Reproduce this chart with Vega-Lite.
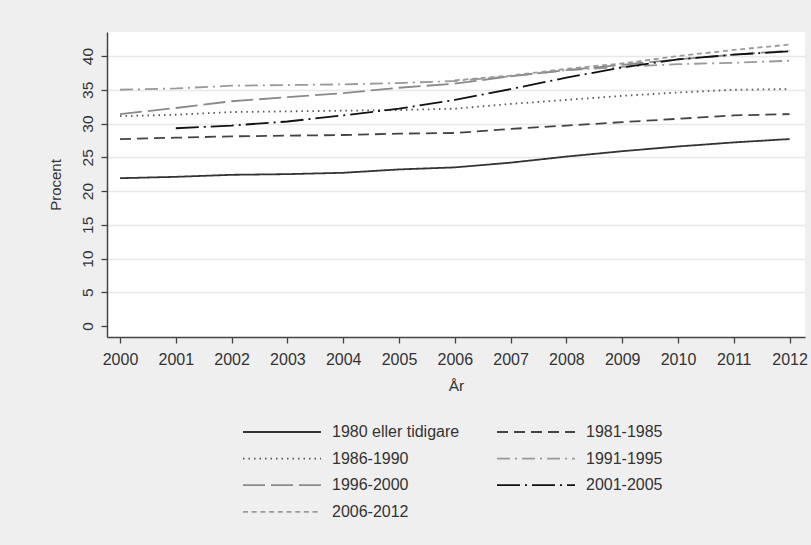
{
  "$schema": "https://vega.github.io/schema/vega-lite/v6.json",
  "width": 698,
  "height": 305,
  "autosize": {"type": "none"},
  "padding": {"left": 107, "top": 32, "right": 6, "bottom": 208},
  "background": "#efefef",
  "config": {
    "font": "Liberation Sans",
    "view": {"fill": "white", "stroke": null},
    "axis": {
      "labelColor": "#333333",
      "titleColor": "#333333",
      "domainColor": "#444444",
      "tickColor": "#444444",
      "domainWidth": 1.5,
      "tickWidth": 1.3,
      "tickSize": 6,
      "titleFontWeight": "normal",
      "titleFont": "Liberation Sans",
      "labelFont": "Liberation Sans"
    }
  },
  "data": {
    "values": [
      {"year": 2000, "cohort": "1980 eller tidigare", "pct": 21.9},
      {"year": 2001, "cohort": "1980 eller tidigare", "pct": 22.1},
      {"year": 2002, "cohort": "1980 eller tidigare", "pct": 22.4},
      {"year": 2003, "cohort": "1980 eller tidigare", "pct": 22.5},
      {"year": 2004, "cohort": "1980 eller tidigare", "pct": 22.7},
      {"year": 2005, "cohort": "1980 eller tidigare", "pct": 23.2},
      {"year": 2006, "cohort": "1980 eller tidigare", "pct": 23.5},
      {"year": 2007, "cohort": "1980 eller tidigare", "pct": 24.2},
      {"year": 2008, "cohort": "1980 eller tidigare", "pct": 25.1},
      {"year": 2009, "cohort": "1980 eller tidigare", "pct": 25.9},
      {"year": 2010, "cohort": "1980 eller tidigare", "pct": 26.6},
      {"year": 2011, "cohort": "1980 eller tidigare", "pct": 27.2},
      {"year": 2012, "cohort": "1980 eller tidigare", "pct": 27.7},

      {"year": 2000, "cohort": "1981-1985", "pct": 27.7},
      {"year": 2001, "cohort": "1981-1985", "pct": 27.9},
      {"year": 2002, "cohort": "1981-1985", "pct": 28.1},
      {"year": 2003, "cohort": "1981-1985", "pct": 28.2},
      {"year": 2004, "cohort": "1981-1985", "pct": 28.3},
      {"year": 2005, "cohort": "1981-1985", "pct": 28.5},
      {"year": 2006, "cohort": "1981-1985", "pct": 28.6},
      {"year": 2007, "cohort": "1981-1985", "pct": 29.2},
      {"year": 2008, "cohort": "1981-1985", "pct": 29.7},
      {"year": 2009, "cohort": "1981-1985", "pct": 30.2},
      {"year": 2010, "cohort": "1981-1985", "pct": 30.7},
      {"year": 2011, "cohort": "1981-1985", "pct": 31.2},
      {"year": 2012, "cohort": "1981-1985", "pct": 31.4},

      {"year": 2000, "cohort": "1986-1990", "pct": 31.1},
      {"year": 2001, "cohort": "1986-1990", "pct": 31.3},
      {"year": 2002, "cohort": "1986-1990", "pct": 31.7},
      {"year": 2003, "cohort": "1986-1990", "pct": 31.8},
      {"year": 2004, "cohort": "1986-1990", "pct": 31.9},
      {"year": 2005, "cohort": "1986-1990", "pct": 32.0},
      {"year": 2006, "cohort": "1986-1990", "pct": 32.2},
      {"year": 2007, "cohort": "1986-1990", "pct": 32.9},
      {"year": 2008, "cohort": "1986-1990", "pct": 33.5},
      {"year": 2009, "cohort": "1986-1990", "pct": 34.1},
      {"year": 2010, "cohort": "1986-1990", "pct": 34.6},
      {"year": 2011, "cohort": "1986-1990", "pct": 35.0},
      {"year": 2012, "cohort": "1986-1990", "pct": 35.1},

      {"year": 2000, "cohort": "1991-1995", "pct": 35.0},
      {"year": 2001, "cohort": "1991-1995", "pct": 35.2},
      {"year": 2002, "cohort": "1991-1995", "pct": 35.6},
      {"year": 2003, "cohort": "1991-1995", "pct": 35.7},
      {"year": 2004, "cohort": "1991-1995", "pct": 35.8},
      {"year": 2005, "cohort": "1991-1995", "pct": 36.0},
      {"year": 2006, "cohort": "1991-1995", "pct": 36.3},
      {"year": 2007, "cohort": "1991-1995", "pct": 37.0},
      {"year": 2008, "cohort": "1991-1995", "pct": 37.9},
      {"year": 2009, "cohort": "1991-1995", "pct": 38.4},
      {"year": 2010, "cohort": "1991-1995", "pct": 38.8},
      {"year": 2011, "cohort": "1991-1995", "pct": 39.0},
      {"year": 2012, "cohort": "1991-1995", "pct": 39.3},

      {"year": 2000, "cohort": "1996-2000", "pct": 31.4},
      {"year": 2001, "cohort": "1996-2000", "pct": 32.3},
      {"year": 2002, "cohort": "1996-2000", "pct": 33.3},
      {"year": 2003, "cohort": "1996-2000", "pct": 33.9},
      {"year": 2004, "cohort": "1996-2000", "pct": 34.5},
      {"year": 2005, "cohort": "1996-2000", "pct": 35.3},
      {"year": 2006, "cohort": "1996-2000", "pct": 35.9},
      {"year": 2007, "cohort": "1996-2000", "pct": 37.0},
      {"year": 2008, "cohort": "1996-2000", "pct": 37.9},
      {"year": 2009, "cohort": "1996-2000", "pct": 38.7},
      {"year": 2010, "cohort": "1996-2000", "pct": 39.5},
      {"year": 2011, "cohort": "1996-2000", "pct": 40.2},
      {"year": 2012, "cohort": "1996-2000", "pct": 40.8},

      {"year": 2001, "cohort": "2001-2005", "pct": 29.3},
      {"year": 2002, "cohort": "2001-2005", "pct": 29.7},
      {"year": 2003, "cohort": "2001-2005", "pct": 30.3},
      {"year": 2004, "cohort": "2001-2005", "pct": 31.2},
      {"year": 2005, "cohort": "2001-2005", "pct": 32.2},
      {"year": 2006, "cohort": "2001-2005", "pct": 33.5},
      {"year": 2007, "cohort": "2001-2005", "pct": 35.1},
      {"year": 2008, "cohort": "2001-2005", "pct": 36.8},
      {"year": 2009, "cohort": "2001-2005", "pct": 38.3},
      {"year": 2010, "cohort": "2001-2005", "pct": 39.5},
      {"year": 2011, "cohort": "2001-2005", "pct": 40.2},
      {"year": 2012, "cohort": "2001-2005", "pct": 40.7},

      {"year": 2006, "cohort": "2006-2012", "pct": 36.4},
      {"year": 2007, "cohort": "2006-2012", "pct": 37.1},
      {"year": 2008, "cohort": "2006-2012", "pct": 38.1},
      {"year": 2009, "cohort": "2006-2012", "pct": 38.9},
      {"year": 2010, "cohort": "2006-2012", "pct": 40.0},
      {"year": 2011, "cohort": "2006-2012", "pct": 40.9},
      {"year": 2012, "cohort": "2006-2012", "pct": 41.7}
    ]
  },
  "mark": {"type": "line", "strokeWidth": 1.8, "strokeCap": "butt"},
  "encoding": {
    "x": {
      "field": "year",
      "type": "quantitative",
      "scale": {"domain": [1999.767, 2012.276], "nice": false, "zero": false},
      "axis": {
        "title": "År",
        "values": [2000, 2001, 2002, 2003, 2004, 2005, 2006, 2007, 2008, 2009, 2010, 2011, 2012],
        "format": "d",
        "grid": false,
        "labelFontSize": 16,
        "labelPadding": 8,
        "titleFontSize": 15.5,
        "titlePadding": 11
      }
    },
    "y": {
      "field": "pct",
      "type": "quantitative",
      "scale": {"domain": [-1.63, 43.56], "nice": false, "zero": false},
      "axis": {
        "title": "Procent",
        "values": [0, 5, 10, 15, 20, 25, 30, 35, 40],
        "grid": true,
        "gridColor": {"condition": {"test": "datum.value === 0", "value": "transparent"}, "value": "#e8e8e8"},
        "gridWidth": 1.3,
        "labelAngle": -90,
        "labelAlign": "center",
        "labelBaseline": "bottom",
        "labelFontSize": 15.5,
        "labelPadding": 6,
        "titleFontSize": 15,
        "titlePadding": 17
      }
    },
    "color": {
      "field": "cohort",
      "type": "nominal",
      "scale": {
        "domain": ["1980 eller tidigare", "1981-1985", "1986-1990", "1991-1995", "1996-2000", "2001-2005", "2006-2012"],
        "range": ["#333333", "#444444", "#555555", "#9a9a9a", "#8a8a8a", "#111111", "#9a9a9a"]
      },
      "legend": {
        "title": null,
        "orient": "none",
        "direction": "horizontal",
        "legendX": 135,
        "legendY": 391,
        "columns": 2,
        "padding": 0,
        "symbolType": "stroke",
        "symbolSize": 6084,
        "symbolStrokeWidth": 1.8,
        "symbolOffset": 0,
        "clipHeight": 18,
        "rowPadding": 8.6,
        "columnPadding": 36,
        "labelOffset": 10,
        "labelFontSize": 16,
        "labelColor": "#333333",
        "labelFont": "Liberation Sans"
      }
    },
    "strokeDash": {
      "field": "cohort",
      "type": "nominal",
      "scale": {
        "domain": ["1980 eller tidigare", "1981-1985", "1986-1990", "1991-1995", "1996-2000", "2001-2005", "2006-2012"],
        "range": [[1, 0], [11, 6], [1.5, 4], [13, 5, 2, 5], [22, 6], [23, 5, 2, 5], [5, 3.7]]
      },
      "legend": {
        "title": null,
        "orient": "none",
        "direction": "horizontal",
        "legendX": 135,
        "legendY": 391,
        "columns": 2,
        "padding": 0,
        "symbolType": "stroke",
        "symbolSize": 6084,
        "symbolStrokeWidth": 1.8,
        "symbolOffset": 0,
        "clipHeight": 18,
        "rowPadding": 8.6,
        "columnPadding": 36,
        "labelOffset": 10,
        "labelFontSize": 16,
        "labelColor": "#333333",
        "labelFont": "Liberation Sans"
      }
    }
  }
}
